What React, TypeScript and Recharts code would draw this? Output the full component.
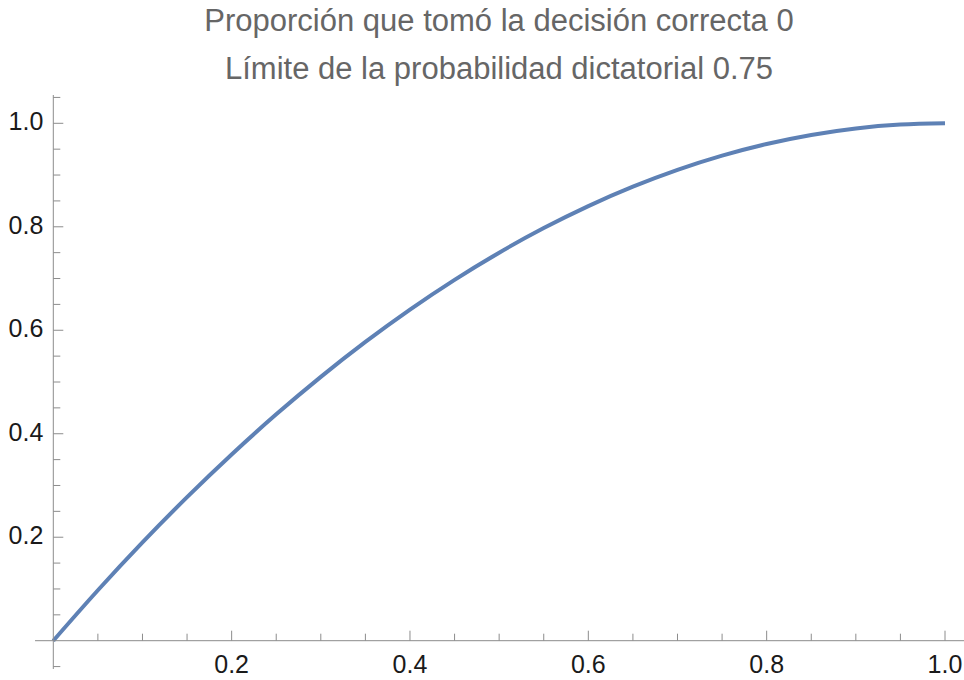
import { Line, LineChart, ReferenceLine, XAxis, YAxis } from 'recharts';

const X_VALUES = [
  0, 0.05, 0.1, 0.15, 0.2, 0.25, 0.3, 0.35, 0.4, 0.45, 0.5, 0.55, 0.6, 0.65, 0.7, 0.75, 0.8,
  0.85, 0.9, 0.95, 1.0,
];
const Y_VALUES = [
  0, 0.0975, 0.19, 0.2775, 0.36, 0.4375, 0.51, 0.5775, 0.64, 0.6975, 0.75, 0.7975, 0.84,
  0.8775, 0.91, 0.9375, 0.96, 0.9775, 0.99, 0.9975, 1.0,
];

const X_TICKS = [
  0.05, 0.1, 0.15, 0.2, 0.25, 0.3, 0.35, 0.4, 0.45, 0.5, 0.55, 0.6, 0.65, 0.7, 0.75, 0.8, 0.85,
  0.9, 0.95, 1.0,
];
const Y_TICKS = [
  -0.05, 0.05, 0.1, 0.15, 0.2, 0.25, 0.3, 0.35, 0.4, 0.45, 0.5, 0.55, 0.6, 0.65, 0.7, 0.75, 0.8,
  0.85, 0.9, 0.95, 1.0, 1.05,
];
const MAJOR_LABELS = ['0.2', '0.4', '0.6', '0.8', '1.0'];

const TITLE_LINES = [
  'Proporción que tomó la decisión correcta 0',
  'Límite de la probabilidad dictatorial 0.75',
];

const AXIS_COLOR = '#8c8c8c';
const LABEL_COLOR = '#1a1a1a';
const LINE_COLOR = '#5e81b5';
const FONT = '"Liberation Sans", Arial, sans-serif';

const data = X_VALUES.map((x, i) => ({ x, y: Y_VALUES[i] }));

function labelFor(value: number) {
  const s = value.toFixed(1);
  return Math.abs(value * 10 - Math.round(value * 10)) < 1e-6 && MAJOR_LABELS.includes(s) && Math.round(value * 100) % 20 === 0
    ? s
    : null;
}

function XTick(props: any) {
  const { x, y, payload } = props;
  const label = labelFor(payload.value);
  return (
    <g>
      <line x1={x} x2={x} y1={y} y2={y - (label ? 10 : 7)} stroke={AXIS_COLOR} />
      {label && (
        <text x={x} y={y + 32.5} textAnchor="middle" fill={LABEL_COLOR} fontSize={25} fontFamily={FONT}>
          {label}
        </text>
      )}
    </g>
  );
}

function YTick(props: any) {
  const { x, y, payload } = props;
  const label = labelFor(payload.value);
  return (
    <g>
      <line x1={x} x2={x + (label ? 10 : 7)} y1={y} y2={y} stroke={AXIS_COLOR} />
      {label && (
        <text x={x - 10} y={y + 7} textAnchor="end" fill={LABEL_COLOR} fontSize={25} fontFamily={FONT}>
          {label}
        </text>
      )}
    </g>
  );
}

export default function App() {
  return (
    <div style={{ position: 'fixed', left: 0, top: 0, width: 964, height: 680, background: '#fff' }}>
      <svg width={964} height={90} style={{ position: 'absolute', left: 0, top: 0 }}>
        {TITLE_LINES.map((t, i) => (
          <text
            key={t}
            x={499}
            y={31 + i * 48}
            textAnchor="middle"
            fill="#666666"
            fontSize={31}
            fontFamily={FONT}
          >
            {t}
          </text>
        ))}
      </svg>
      <LineChart
        width={964}
        height={680}
        data={data}
        margin={{ top: 95, right: 0, bottom: 0, left: 0 }}
        style={{ position: 'absolute', left: 0, top: 0 }}
      >
        <XAxis
          dataKey="x"
          type="number"
          domain={[0, 1.0213]}
          ticks={X_TICKS}
          interval={0}
          height={39.3}
          tickSize={0}
          tickMargin={0}
          tickLine={false}
          tick={<XTick />}
          axisLine={{ stroke: AXIS_COLOR }}
        />
        <YAxis
          type="number"
          domain={[0, 1.0547]}
          ticks={Y_TICKS}
          interval={0}
          width={53.3}
          tickSize={0}
          tickMargin={0}
          tickLine={false}
          tick={<YTick />}
          axisLine={{ stroke: AXIS_COLOR }}
        />
        <ReferenceLine
          segment={[{ x: -0.0205, y: 0 }, { x: 0, y: 0 }]}
          ifOverflow="visible"
          stroke={AXIS_COLOR}
        />
        <ReferenceLine
          segment={[{ x: 0, y: -0.0547 }, { x: 0, y: 0 }]}
          ifOverflow="visible"
          stroke={AXIS_COLOR}
        />
        <Line
          type="monotone"
          dataKey="y"
          stroke={LINE_COLOR}
          strokeWidth={4}
          dot={false}
          isAnimationActive={false}
        />
      </LineChart>
    </div>
  );
}
